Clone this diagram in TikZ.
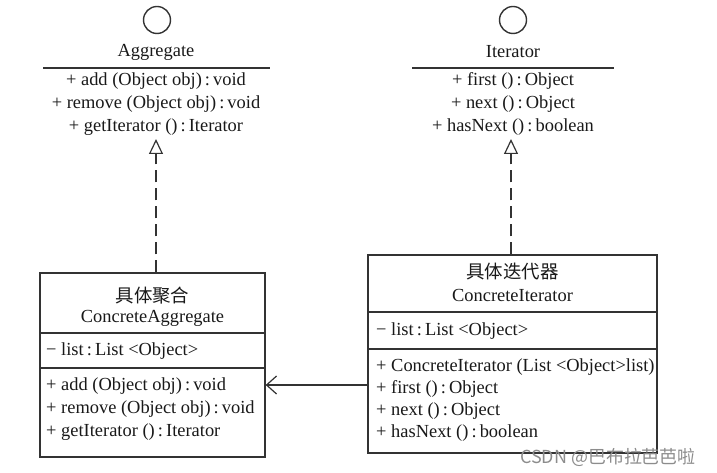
\documentclass[tikz,border=0pt]{standalone}
\usepackage{fontspec}
\setmainfont{Liberation Serif}
\newfontfamily\cjk{Noto Sans CJK SC}
\usetikzlibrary{arrows.meta}
\begin{document}
\begin{tikzpicture}[x=1bp,y=-1bp,
  txt/.style={font=\fontsize{18.5}{20}\selectfont, inner sep=0pt, text=black!90},
  lft/.style={txt, anchor=west},
  box/.style={draw=black!80, line width=1.3bp, fill=white, inner sep=0pt},
  sep/.style={draw=black!80, line width=1.3bp},
  iface/.style={draw=black!80, line width=1.4bp, circle, minimum size=27bp, inner sep=0pt},
  realize/.style={draw=black!80, line width=1.2bp, dash pattern=on 12bp off 6bp, -{Triangle[open, length=15bp, width=14bp, line width=1.2bp]}},
  assoc/.style={draw=black!80, line width=1.2bp, -{Straight Barb[length=10bp, width=18bp, line width=1.2bp]}}]
\useasboundingbox (0,0) rectangle (717,473);

% Aggregate interface
\node[iface] (aggc) at (157,20) {};
\node[txt] (aggn) at (156,52) {Aggregate};
\coordinate (aggl) at (43,68);
\coordinate (aggr) at (270,68);
\draw[sep] (aggl) -- (aggr);
\node[txt] (aggm1) at (156,81) {+ add (Object obj)\,:\,void};
\node[txt] (aggm2) at (156,104) {+ remove (Object obj)\,:\,void};
\node[txt] (aggm3) at (156,127) {+ getIterator ()\,:\,Iterator};
\coordinate (aggtip) at (156,139);

% Iterator interface
\node[iface] (itc) at (513,20) {};
\node[txt] (itn) at (513,52) {Iterator};
\coordinate (itl) at (412,68);
\coordinate (itr) at (614,68);
\draw[sep] (itl) -- (itr);
\node[txt] (itm1) at (513,81) {+ first ()\,:\,Object};
\node[txt] (itm2) at (513,104) {+ next ()\,:\,Object};
\node[txt] (itm3) at (513,127) {+ hasNext ()\,:\,boolean};
\coordinate (ittip) at (511,139);

% ConcreteAggregate box
\node[box, minimum width=225bp, minimum height=184bp] (ca) at (152.5,365) {};
\draw[sep] (40,333) -- (265,333);
\draw[sep] (40,368) -- (265,368);
\node[txt] (cat1) at (152.5,296) {\cjk 具体聚合};
\node[txt] (cat2) at (152.5,318) {ConcreteAggregate};
\node[lft] (caa) at (46,351) {− list\,:\,List <Object>};
\node[lft] (cam1) at (46,386) {+ add (Object obj)\,:\,void};
\node[lft] (cam2) at (46,409) {+ remove (Object obj)\,:\,void};
\node[lft] (cam3) at (46,432) {+ getIterator ()\,:\,Iterator};

% ConcreteIterator box
\node[box, minimum width=289bp, minimum height=198bp] (ci) at (512.5,354) {};
\draw[sep] (368,312) -- (657,312);
\draw[sep] (368,349) -- (657,349);
\node[txt] (cit1) at (512.5,272) {\cjk 具体迭代器};
\node[txt] (cit2) at (512.5,295) {ConcreteIterator};
\node[lft] (cia) at (376,331) {− list\,:\,List <Object>};
\node[lft] (cim1) at (376,367) {+ ConcreteIterator (List <Object>list)};
\node[lft] (cim2) at (376,389) {+ first ()\,:\,Object};
\node[lft] (cim3) at (376,411) {+ next ()\,:\,Object};
\node[lft] (cim4) at (376,433) {+ hasNext ()\,:\,boolean};

% connectors
\draw[realize] (ca.north -| aggtip) -- (aggtip);
\draw[realize] (ci.north -| ittip) -- (ittip);
\coordinate (assocy) at (0,385);
\draw[assoc] (ci.west |- assocy) -- (ca.east |- assocy);

% watermark
\node[font=\cjk\fontsize{18}{20}\selectfont, text=black!45, inner sep=0pt, anchor=west] (wm) at (520,457) {CSDN @巴布拉芭芭啦};
\end{tikzpicture}
\end{document}
